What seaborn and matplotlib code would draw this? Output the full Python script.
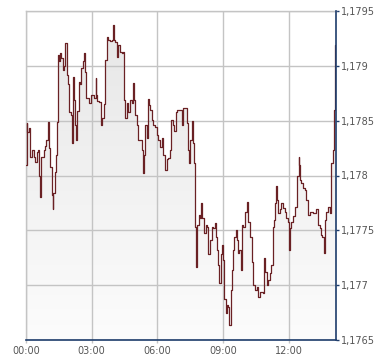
import numpy as np
import pandas as pd
import matplotlib
matplotlib.use("Agg")
import matplotlib.pyplot as plt
import seaborn as sns
from matplotlib.ticker import FixedLocator, FuncFormatter
from matplotlib.colors import LinearSegmentedColormap

# ---- data (minutes since 00:00, EUR/USD-like price) ----
minutes = [0, 2, 4, 8, 12, 16, 21, 25, 29, 33, 36, 37, 40, 42, 47, 49, 51, 55, 59, 60,
           63, 67, 71, 73, 75, 79, 83, 86, 88, 90, 93, 97, 101, 104, 108, 111, 115, 119, 122, 125,
           127, 129, 130, 131, 135, 138, 141, 144, 148, 152, 155, 159, 161, 164, 168, 173, 177, 182, 186, 191,
           192, 195, 200, 205, 209, 214, 216, 221, 225, 230, 235, 239, 240, 244, 248, 253, 258, 262, 265, 268,
           271, 276, 280, 285, 290, 294, 295, 299, 303, 308, 312, 317, 321, 323, 326, 331, 335, 336, 340, 344,
           349, 353, 358, 362, 367, 372, 376, 381, 385, 390, 394, 397, 402, 405, 411, 415, 419, 426, 431, 436,
           440, 445, 447, 449, 454, 458, 461, 463, 466, 469, 473, 477, 479, 483, 488, 492, 497, 499, 504, 509,
           513, 518, 521, 524, 527, 530, 533, 538, 541, 543, 547, 551, 554, 557, 561, 564, 566, 570, 575, 577,
           582, 584, 588, 592, 595, 600, 605, 609, 614, 618, 623, 627, 632, 636, 641, 647, 650, 653, 656, 659,
           663, 668, 672, 676, 679, 681, 686, 688, 690, 695, 699, 704, 709, 713, 718, 721, 722, 724, 727, 731,
           736, 741, 743, 747, 749, 751, 754, 759, 764, 768, 773, 777, 782, 786, 791, 795, 800, 805, 809, 812,
           815, 818, 823, 827, 832, 835, 836, 840, 843, 845, 846, 850]
prices = [1.17810, 1.17848, 1.17840, 1.17843, 1.17817, 1.17823, 1.17817, 1.17812, 1.17821, 1.17823,
          1.17800, 1.17780, 1.17805, 1.17817, 1.17817, 1.17823, 1.17827, 1.17832, 1.17833, 1.17849,
          1.17825, 1.17808, 1.17782, 1.17769, 1.17784, 1.17803, 1.17819, 1.17849, 1.17910, 1.17904,
          1.17912, 1.17907, 1.17896, 1.17900, 1.17921, 1.17892, 1.17883, 1.17858, 1.17855, 1.17846,
          1.17830, 1.17860, 1.17890, 1.17869, 1.17846, 1.17832, 1.17859, 1.17885, 1.17883, 1.17898,
          1.17904, 1.17912, 1.17894, 1.17871, 1.17871, 1.17866, 1.17873, 1.17873, 1.17871, 1.17889,
          1.17873, 1.17868, 1.17867, 1.17846, 1.17852, 1.17865, 1.17905, 1.17926, 1.17924, 1.17923,
          1.17924, 1.17937, 1.17924, 1.17922, 1.17908, 1.17919, 1.17913, 1.17912, 1.17913, 1.17869,
          1.17852, 1.17866, 1.17858, 1.17869, 1.17866, 1.17884, 1.17869, 1.17855, 1.17846, 1.17832,
          1.17832, 1.17823, 1.17802, 1.17819, 1.17846, 1.17834, 1.17870, 1.17864, 1.17860, 1.17851,
          1.17846, 1.17844, 1.17837, 1.17832, 1.17826, 1.17834, 1.17819, 1.17805, 1.17815, 1.17816,
          1.17823, 1.17851, 1.17846, 1.17841, 1.17858, 1.17860, 1.17860, 1.17846, 1.17862, 1.17862,
          1.17848, 1.17823, 1.17811, 1.17832, 1.17850, 1.17830, 1.17811, 1.17753, 1.17717, 1.17755,
          1.17764, 1.17761, 1.17775, 1.17761, 1.17748, 1.17755, 1.17753, 1.17728, 1.17741, 1.17753,
          1.17752, 1.17757, 1.17744, 1.17732, 1.17718, 1.17702, 1.17728, 1.17737, 1.17723, 1.17687,
          1.17675, 1.17682, 1.17680, 1.17664, 1.17696, 1.17714, 1.17732, 1.17744, 1.17750, 1.17741,
          1.17729, 1.17732, 1.17714, 1.17755, 1.17753, 1.17767, 1.17776, 1.17758, 1.17744, 1.17721,
          1.17700, 1.17696, 1.17698, 1.17689, 1.17694, 1.17694, 1.17693, 1.17725, 1.17712, 1.17700,
          1.17705, 1.17711, 1.17718, 1.17753, 1.17759, 1.17775, 1.17790, 1.17778, 1.17766, 1.17769,
          1.17775, 1.17770, 1.17767, 1.17761, 1.17758, 1.17732, 1.17746, 1.17752, 1.17758, 1.17763,
          1.17771, 1.17771, 1.17800, 1.17817, 1.17810, 1.17796, 1.17793, 1.17789, 1.17787, 1.17778,
          1.17764, 1.17767, 1.17767, 1.17766, 1.17766, 1.17769, 1.17755, 1.17752, 1.17746, 1.17744,
          1.17729, 1.17759, 1.17767, 1.17771, 1.17766, 1.17778, 1.17811, 1.17823, 1.17851, 1.17860,
          1.17919, 1.17919]

x_ticks = [0, 180, 360, 540, 720]
x_labels = ["00:00", "03:00", "06:00", "09:00", "12:00"]
y_ticks = [1.1765, 1.1770, 1.1775, 1.1780, 1.1785, 1.1790, 1.1795]
x_range = [0, 850]
y_range = [1.1765, 1.1795]

df = pd.DataFrame({"minute": minutes, "price": prices})

sns.set_style("white")
plt.rcParams["font.family"] = ["DejaVu Sans"]

fig = plt.figure(figsize=(3.9, 3.64), dpi=100)
ax = fig.add_axes([26 / 390, 24 / 364, 310.3 / 390, 329 / 364])

line_color = "#6a2124"
axis_blue = "#1d3c6b"
grid_gray = "#c4c4c4"

# gradient fill under the curve
poly = ax.fill_between(df["minute"], df["price"], y_range[0], step="post",
                       facecolor="none", edgecolor="none", lw=0)
cmap = LinearSegmentedColormap.from_list("fillgrad", ["#fcfcfc", "#e6e6e6"])
grad = np.linspace(0, 1, 256).reshape(-1, 1)
im = ax.imshow(grad, cmap=cmap, extent=[x_range[0], x_range[1], y_range[0], y_range[1]],
               aspect="auto", origin="lower", zorder=1)
im.set_clip_path(poly.get_paths()[0], ax.transData)

sns.lineplot(data=df, x="minute", y="price", drawstyle="steps-post", color=line_color,
             lw=0.9, estimator=None, ax=ax, zorder=3)

ax.set_xlim(*x_range)
ax.set_ylim(*y_range)
ax.set_xlabel("")
ax.set_ylabel("")

ax.xaxis.set_major_locator(FixedLocator(x_ticks))
ax.xaxis.set_major_formatter(FuncFormatter(lambda v, p: x_labels[x_ticks.index(int(round(v)))]
                                           if int(round(v)) in x_ticks else ""))
ax.yaxis.set_major_locator(FixedLocator(y_ticks))
ax.yaxis.set_major_formatter(FuncFormatter(lambda v, p: f"{v:.4f}".rstrip("0").replace(".", ",")))

ax.set_axisbelow("line")
ax.grid(True, color=grid_gray, lw=1.0)

for side in ["left", "top"]:
    ax.spines[side].set_color(grid_gray)
    ax.spines[side].set_linewidth(1.0)
for side in ["right", "bottom"]:
    ax.spines[side].set_color(axis_blue)
    ax.spines[side].set_linewidth(1.2)
    ax.spines[side].set_zorder(4)

ax.tick_params(axis="y", which="both", left=False, right=True, labelleft=False, labelright=True,
               length=2.5, width=1, color=axis_blue, labelsize=7, labelcolor="#555555", pad=1)
ax.tick_params(axis="x", which="both", bottom=True, length=2.5, width=1, color=grid_gray,
               labelsize=7, labelcolor="#555555", pad=2)

fig.savefig("out.png", dpi=100)
